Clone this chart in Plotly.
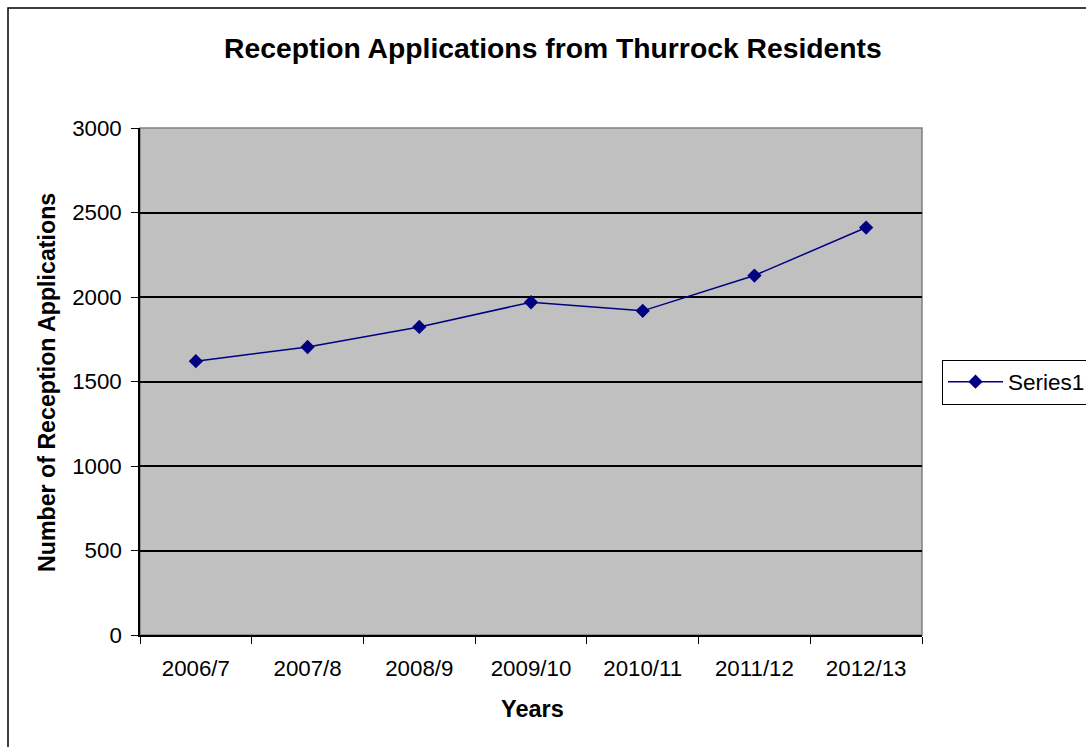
import plotly.graph_objects as go

# Reception applications received from Thurrock residents, by school year
years = ["2006/7", "2007/8", "2008/9", "2009/10", "2010/11", "2011/12", "2012/13"]
applications = [1620, 1704, 1823, 1969, 1918, 2127, 2411]
y_ticks = [0, 500, 1000, 1500, 2000, 2500, 3000]

W, H = 1086, 747
L, R, T, B = 140, 164, 128, 112
plot_w, plot_h = W - L - R, H - T - B

def px_x(px):
    return (px - L) / plot_w

def px_y(py):
    return (H - B - py) / plot_h

FONT = "Liberation Sans, Arial, sans-serif"
NAVY = "#000080"

fig = go.Figure()
fig.add_trace(go.Scatter(
    x=years, y=applications, name="Series1", mode="lines+markers",
    line=dict(color=NAVY, width=1.5),
    marker=dict(symbol="diamond", size=11, color=NAVY),
))

fig.update_layout(
    width=W, height=H,
    margin=dict(l=L, r=R, t=T, b=B, pad=0, autoexpand=False),
    paper_bgcolor="white", plot_bgcolor="#C0C0C0",
    font=dict(family=FONT, size=22, color="black"),
    showlegend=True,
    legend=dict(
        x=px_x(942), y=px_y(382), xanchor="left", yanchor="middle",
        bordercolor="black", borderwidth=1, bgcolor="white",
        itemwidth=55,
        font=dict(family=FONT, size=22.5, color="black"),
    ),
    xaxis=dict(
        type="category", range=[-0.5, 6.5], tickson="boundaries",
        showgrid=False, ticks="outside", ticklen=7, tickcolor="black",
        showline=True, linecolor="black", linewidth=1.5,
        ticklabelstandoff=12,
        tickfont=dict(family=FONT, size=22.3),
    ),
    yaxis=dict(
        range=[0, 3000], tickvals=y_ticks, showgrid=True,
        gridcolor="black", gridwidth=1.5, zeroline=False,
        ticks="outside", ticklen=7, tickcolor="black",
        showline=True, linecolor="black", linewidth=1.5,
        ticklabelstandoff=5,
        tickfont=dict(family=FONT, size=22.3),
    ),
    shapes=[
        # grey frame around the plotting area
        dict(type="rect", xref="paper", yref="paper", x0=0, x1=1, y0=0, y1=1,
             line=dict(color="#808080", width=1.5), layer="below"),
        # outer chart border
        dict(type="rect", xref="paper", yref="paper",
             x0=px_x(8), x1=px_x(1200), y0=px_y(900), y1=px_y(8),
             line=dict(color="black", width=1.5)),
    ],
    annotations=[
        dict(text="<b>Reception Applications from Thurrock Residents</b>",
             xref="paper", yref="paper", x=px_x(553), y=px_y(48),
             xanchor="center", yanchor="middle", showarrow=False,
             font=dict(family=FONT, size=28.3)),
        dict(text="<b>Years</b>", xref="paper", yref="paper",
             x=px_x(532), y=px_y(709), xanchor="center", yanchor="middle",
             showarrow=False, font=dict(family=FONT, size=23.5)),
        dict(text="<b>Number of Reception Applications</b>", xref="paper", yref="paper",
             x=px_x(47), y=px_y(383), xanchor="center", yanchor="middle",
             textangle=-90, showarrow=False, font=dict(family=FONT, size=23.2)),
    ],
)

fig.write_html("out.html")
